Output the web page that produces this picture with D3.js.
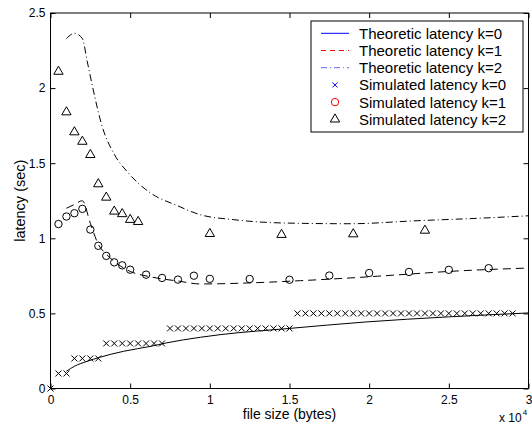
<!DOCTYPE html>
<html>
<head>
<meta charset="utf-8">
<script src="https://cdn.jsdelivr.net/npm/d3@7"></script>
<style>
  body { margin: 0; background: #fff; }
  svg { display: block; font-family: "Liberation Sans", Arial, Helvetica, sans-serif; }
</style>
</head>
<body>
<svg id="chart" width="532" height="425"></svg>
<script>
// axis ticks (x in bytes, shown as x 10^4)
const X_TICKS = [0, 5000, 10000, 15000, 20000, 25000, 30000]
const Y_TICKS = [0, 0.5, 1, 1.5, 2, 2.5]

// theoretic curves
const theoK0Size = [1000, 1500, 2300, 3100, 4600, 6300, 7300, 9400, 10700, 15000, 19800, 25000, 30000]
const theoK0Latency = [0.115, 0.148, 0.181, 0.208, 0.248, 0.281, 0.304, 0.341, 0.359, 0.4, 0.443, 0.477, 0.503]

const theoK1Size = [1000, 1500, 2000, 2500, 3000, 3500, 4000, 5000, 6300, 8100, 9400, 12500, 15700, 18800, 22000, 25100, 30000]
const theoK1Latency = [1.2, 1.225, 1.25, 1.1, 0.96, 0.895, 0.846, 0.78, 0.743, 0.714, 0.696, 0.703, 0.718, 0.736, 0.758, 0.78, 0.802]

const theoK2Size = [1000, 1500, 2000, 2300, 2700, 3200, 4000, 4800, 6300, 7900, 9400, 11500, 14600, 18800, 23000, 27200, 30000]
const theoK2Latency = [2.33, 2.365, 2.33, 2.18, 1.98, 1.76, 1.56, 1.445, 1.3, 1.22, 1.157, 1.124, 1.102, 1.097, 1.117, 1.135, 1.15]

// simulated points
const simK0Size = [0, 500, 1000, 1500, 2000, 2500, 3000, 3500, 4000, 4500, 5000, 5500, 6000, 6500, 7000,
  7500, 8000, 8500, 9000, 9500, 10000, 10500, 11000, 11500, 12000, 12500, 13000, 13500, 14000, 14500, 15000,
  15500, 16000, 16500, 17000, 17500, 18000, 18500, 19000, 19500, 20000, 20500, 21000, 21500, 22000, 22500,
  23000, 23500, 24000, 24500, 25000, 25500, 26000, 26500, 27000, 27500, 28000, 28500, 29000]
const simK0Latency = [0, 0.1, 0.1, 0.2, 0.2, 0.2, 0.2, 0.3, 0.3, 0.3, 0.3, 0.3, 0.3, 0.3, 0.3,
  0.4, 0.4, 0.4, 0.4, 0.4, 0.4, 0.4, 0.4, 0.4, 0.4, 0.4, 0.4, 0.4, 0.4, 0.4, 0.4,
  0.5, 0.5, 0.5, 0.5, 0.5, 0.5, 0.5, 0.5, 0.5, 0.5, 0.5, 0.5, 0.5, 0.5, 0.5,
  0.5, 0.5, 0.5, 0.5, 0.5, 0.5, 0.5, 0.5, 0.5, 0.5, 0.5, 0.5, 0.5]

const simK1Size = [500, 1000, 1500, 2000, 2500, 3000, 3500, 4000, 4500, 5000, 6000, 7000, 8000, 9000, 10000,
  12500, 15000, 17500, 20000, 22500, 25000, 27500]
const simK1Latency = [1.095, 1.145, 1.167, 1.196, 1.058, 0.95, 0.883, 0.84, 0.82, 0.791, 0.758, 0.736, 0.725, 0.751, 0.73,
  0.729, 0.724, 0.752, 0.769, 0.776, 0.79, 0.801]

const simK2Size = [500, 1000, 1500, 2000, 2500, 3000, 3500, 4000, 4500, 5000, 5500, 10000, 14500, 19000, 23500]
const simK2Latency = [2.11, 1.84, 1.707, 1.644, 1.556, 1.361, 1.272, 1.179, 1.162, 1.124, 1.11, 1.03, 1.024, 1.028, 1.052]

const LEGEND_LABELS = [
  "Theoretic latency k=0",
  "Theoretic latency k=1",
  "Theoretic latency k=2",
  "Simulated latency k=0",
  "Simulated latency k=1",
  "Simulated latency k=2",
]

const svg = d3.select("#chart")

const x = d3.scaleLinear().domain([0, 30000]).range([50.5, 528.5])
const y = d3.scaleLinear().domain([0, 2.5]).range([388.5, 13])

const zip = (xs, ys) => xs.map((v, i) => [v, ys[i]])

// marker shapes
const crossPath = (s) => `M${-s},${-s}L${s},${s}M${-s},${s}L${s},${-s}`
const trianglePath = d3.symbol(d3.symbolTriangle, 38)()

// axes, matlab style: ticks inward on all four sides
const tickFmt = (d) => String(d / 10000)
const styleAxis = (g) => {
  g.attr("font-size", 12).attr("font-family", null)
  g.select(".domain").remove()
  g.selectAll(".tick line").attr("stroke", "#000")
  g.selectAll(".tick text").attr("fill", "#000")
}

svg.append("g")
  .attr("transform", `translate(0, ${y(0)})`)
  .call(d3.axisBottom(x).tickValues(X_TICKS).tickFormat(tickFmt).tickSizeInner(-5).tickSizeOuter(0).tickPadding(7))
  .call(styleAxis)
svg.append("g")
  .attr("transform", `translate(0, ${y(2.5)})`)
  .call(d3.axisTop(x).tickValues(X_TICKS).tickFormat("").tickSizeInner(-5).tickSizeOuter(0))
  .call(styleAxis)
svg.append("g")
  .attr("transform", `translate(${x(0)}, 0)`)
  .call(d3.axisLeft(y).tickValues(Y_TICKS).tickFormat(String).tickSizeInner(-5).tickSizeOuter(0).tickPadding(5))
  .call(styleAxis)
svg.append("g")
  .attr("transform", `translate(${x(30000)}, 0)`)
  .call(d3.axisRight(y).tickValues(Y_TICKS).tickFormat("").tickSizeInner(-5).tickSizeOuter(0))
  .call(styleAxis)

// theoretic curves
const line = d3.line()
  .x((d) => x(d[0]))
  .y((d) => y(d[1]))
  .curve(d3.curveMonotoneX)

const curves = [
  { data: zip(theoK0Size, theoK0Latency), dash: null },
  { data: zip(theoK1Size, theoK1Latency), dash: "8,5" },
  { data: zip(theoK2Size, theoK2Latency), dash: "7,3,1,3" },
]
curves.forEach(({ data, dash }) => {
  svg.append("path")
    .attr("fill", "none")
    .attr("stroke", "#000")
    .attr("stroke-width", 1)
    .attr("stroke-dasharray", dash)
    .attr("d", line(data))
})

// simulated points
svg.append("g").selectAll("path")
  .data(zip(simK0Size, simK0Latency))
  .join("path")
  .attr("transform", (d) => `translate(${x(d[0])}, ${y(d[1])})`)
  .attr("d", crossPath(3))
  .attr("stroke", "#000")
  .attr("fill", "none")

svg.append("g").selectAll("circle")
  .data(zip(simK1Size, simK1Latency))
  .join("circle")
  .attr("cx", (d) => x(d[0]))
  .attr("cy", (d) => y(d[1]))
  .attr("r", 3.7)
  .attr("stroke", "#000")
  .attr("fill", "none")

svg.append("g").selectAll("path")
  .data(zip(simK2Size, simK2Latency))
  .join("path")
  .attr("transform", (d) => `translate(${x(d[0])}, ${y(d[1])})`)
  .attr("d", trianglePath)
  .attr("stroke", "#000")
  .attr("fill", "none")

// plot box
svg.append("rect")
  .attr("x", x(0))
  .attr("y", y(2.5))
  .attr("width", x(30000) - x(0))
  .attr("height", y(0) - y(2.5))
  .attr("fill", "none")
  .attr("stroke", "#000")

// axis labels
svg.append("text")
  .attr("x", (x(0) + x(30000)) / 2)
  .attr("y", 419)
  .attr("text-anchor", "middle")
  .attr("font-size", 14)
  .text("file size (bytes)")

svg.append("text")
  .attr("transform", `translate(25, ${(y(0) + y(2.5)) / 2}) rotate(-90)`)
  .attr("text-anchor", "middle")
  .attr("font-size", 14.5)
  .text("latency (sec)")

const expo = svg.append("text").attr("x", 499).attr("y", 422).attr("font-size", 12)
expo.append("tspan").text("x 10")
expo.append("tspan").attr("dx", 1).attr("dy", -7).attr("font-size", 8).text("4")

// legend
const legend = svg.append("g")
legend.append("rect")
  .attr("x", 311)
  .attr("y", 21)
  .attr("width", 212)
  .attr("height", 111)
  .attr("fill", "#fff")
  .attr("stroke", "#000")

const rowY = (i) => 33.3 + i * 17.2
const legendLines = [
  { color: "#0000ff", dash: null },
  { color: "#ff0000", dash: "5,4" },
  { color: "#6666ff", dash: "6,3,1,3" },
]
legendLines.forEach(({ color, dash }, i) => {
  legend.append("line")
    .attr("x1", 321)
    .attr("x2", 349)
    .attr("y1", rowY(i))
    .attr("y2", rowY(i))
    .attr("stroke", color)
    .attr("stroke-dasharray", dash)
})
legend.append("path")
  .attr("transform", `translate(335, ${rowY(3)})`)
  .attr("d", crossPath(2.5))
  .attr("stroke", "#0000ff")
legend.append("circle")
  .attr("cx", 335)
  .attr("cy", rowY(4))
  .attr("r", 3.7)
  .attr("stroke", "#ff0000")
  .attr("fill", "none")
legend.append("path")
  .attr("transform", `translate(335, ${rowY(5)})`)
  .attr("d", trianglePath)
  .attr("stroke", "#000")
  .attr("fill", "none")

LEGEND_LABELS.forEach((label, i) => {
  legend.append("text")
    .attr("x", 359)
    .attr("y", rowY(i))
    .attr("dy", "0.36em")
    .attr("font-size", 15)
    .text(label)
})
</script>
</body>
</html>
